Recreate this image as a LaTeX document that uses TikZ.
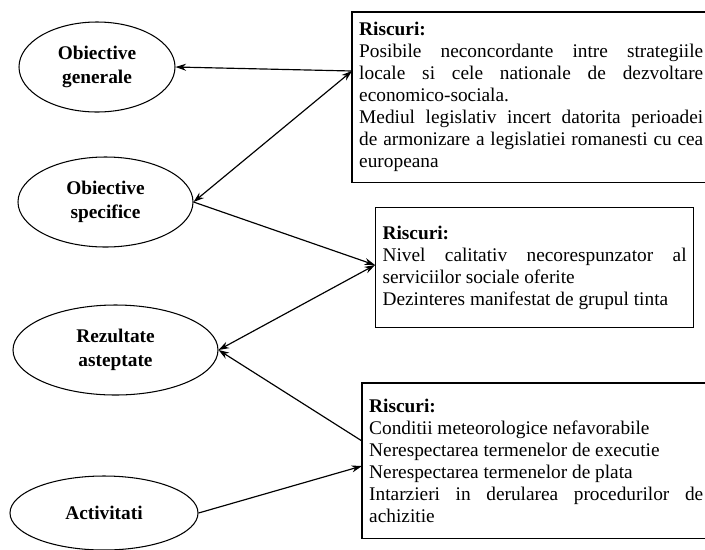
\documentclass[tikz,border=0pt]{standalone}
\usepackage{fontspec}
\setmainfont{Liberation Serif}
\usetikzlibrary{shapes.geometric,arrows.meta}
\setlength{\parindent}{0pt}
\hyphenpenalty=10000
\exhyphenpenalty=10000

\begin{document}
\begin{tikzpicture}[
  x=0.03cm, y=-0.03cm,
  >={Stealth[length=9pt,width=6pt]},
  every node/.style={font=\fontsize{16.5}{18.8}\selectfont},
  goal/.style={draw,ellipse,line width=0.9pt,align=center,inner sep=0pt,
    font=\fontsize{16.5}{21}\selectfont\bfseries},
  riskbox/.style={anchor=north west,align=justify,inner xsep=0.21cm},
  boxline/.style={line width=1pt}
]
\useasboundingbox (0,0) rectangle (705,549);

% --- Nodes ---
% left column: goals
\node[goal,minimum width=4.68cm,minimum height=2.7cm]  (gen)  at (97,67)    {Obiective\\generale};
\node[goal,minimum width=5.25cm,minimum height=2.7cm]  (spec) at (105.5,202) {Obiective\\specifice};
\node[goal,minimum width=6.15cm,minimum height=2.7cm]  (rez)  at (115.5,350) {Rezultate\\asteptate};
\node[goal,minimum width=5.64cm,minimum height=2.22cm] (act)  at (104,513)   {Activitati};

% right column: risks
\node[riskbox,text width=10.32cm,minimum height=5.1cm] (r1) at (352,12)
  {\textbf{Riscuri:}\par
   Posibile neconcordante intre strategiile\linebreak
   locale si cele nationale de dezvoltare\linebreak
   economico-sociala.\par
   Mediul legislativ incert datorita perioadei\linebreak
   de armonizare a legislatiei romanesti cu cea\linebreak
   europeana};
\node[riskbox,draw,line width=1pt,text width=9.12cm,minimum height=3.6cm] (r2) at (375,207)
  {\textbf{Riscuri:}\par
   Nivel calitativ necorespunzator al\linebreak
   serviciilor sociale oferite\par
   Dezinteres manifestat de grupul tinta};
\node[riskbox,text width=10.02cm,minimum height=4.65cm,yshift=0.06cm] (r3) at (362,385)
  {\textbf{Riscuri:}\par
   Conditii meteorologice nefavorabile\par
   Nerespectarea termenelor de executie\par
   Nerespectarea termenelor de plata\par
   Intarzieri in derularea procedurilor de\linebreak
   achizitie};

% boxes 1 and 3 run past the right edge
\draw[boxline] ([xshift=1cm]r1.north east) -- (r1.north west) -- (r1.south west) -- ([xshift=1cm]r1.south east);
\draw[boxline] ([xshift=1cm]r3.north east) -- (r3.north west) -- (r3.south west) -- ([xshift=1cm]r3.south east);

% entry points on the boxes
\coordinate (in1) at (r1.west |- 0,71);
\coordinate (in2) at (r2.west |- 0,265);
\coordinate (in3) at (r3.west |- 0,441);
\coordinate (in4) at (r3.west |- 0,466);

% --- Arrows ---
\draw[->,line width=1pt]  (in1) -- (gen.east);
\draw[<->,line width=1pt] (spec.east) -- (in1);
\draw[->,line width=1pt]  (spec.east) -- (in2);
\draw[<->,line width=1pt] (rez.east) -- (in2);
\draw[->,line width=1pt]  (in3) -- (rez.east);
\draw[->,line width=1pt]  (act.east) -- (in4);

\end{tikzpicture}
\end{document}
